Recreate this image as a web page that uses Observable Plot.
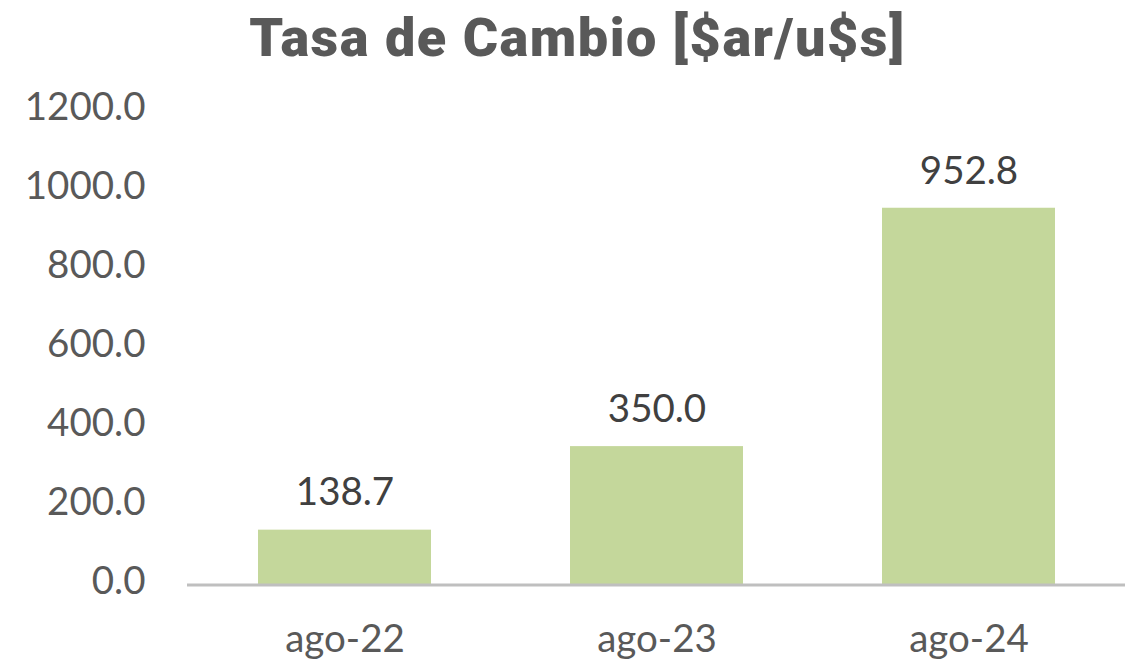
<!DOCTYPE html>
<html>
<head>
<meta charset="utf-8">
<script src="https://cdn.jsdelivr.net/npm/d3@7"></script>
<script src="https://cdn.jsdelivr.net/npm/@observablehq/plot@0.6"></script>
<style>
  html, body { margin: 0; padding: 0; background: #fff; }
  #title { height: 75px; line-height: 76px; text-align: center; font-family: Roboto, Lato, sans-serif; font-weight: 900; font-size: 54px; letter-spacing: 1.5px; color: #595959; padding-left: 14px; }
  svg { display: block; }
</style>
</head>
<body>
<div id="title">Tasa de Cambio [$ar/u$s]</div>
<div id="chart"></div>
<script>
const categories = ["ago-22", "ago-23", "ago-24"];
const values = [138.7, 350.0, 952.8];
const yTicks = [0, 200, 400, 600, 800, 1000, 1200];

const data = categories.map((c, i) => ({cat: c, val: values[i]}));

const chart = Plot.plot({
  width: 1141,
  height: 596,
  marginLeft: 187,
  marginRight: 16,
  marginTop: 35,
  marginBottom: 86.5,
  style: { fontFamily: "Lato, 'Open Sans', sans-serif", fontSize: "38.5px", color: "#595959", background: "#fff" },
  x: { domain: categories, paddingInner: 0.446, paddingOuter: 0.223, label: null },
  y: { domain: [0, 1200], label: null },
  marks: [
    Plot.barY(data, { x: "cat", y: "val", fill: "#c4d79b" }),
    Plot.ruleY([0], { stroke: "#bfbfbf", strokeWidth: 3 }),
    Plot.axisY({ ticks: yTicks, tickFormat: d3.format(".1f"), tickSize: 0, tickPadding: 42, dy: -3, fill: "#595959", label: null }),
    Plot.axisX({ tickSize: 0, tickPadding: 40, fill: "#595959", label: null }),
    Plot.text(data, { x: "cat", y: "val", text: d => d3.format(".1f")(d.val), dy: -37, lineAnchor: "middle", fill: "#404040", fontSize: 38.5 })
  ]
});
document.getElementById("chart").appendChild(chart);
</script>
</body>
</html>
